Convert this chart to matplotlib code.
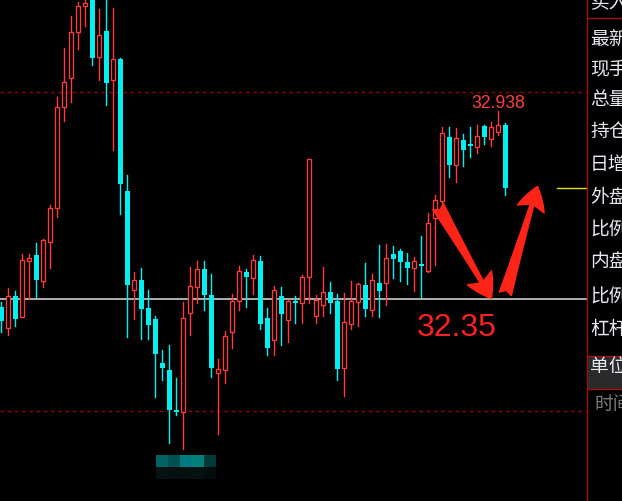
import matplotlib
matplotlib.use("Agg")
import matplotlib.pyplot as plt
from matplotlib.patches import Rectangle

# OHLC (oldest -> newest)
opens = [32.325, 32.259, 32.359, 32.294, 32.469, 32.488, 32.406, 32.528, 32.635, 32.951,
         33.044, 33.188, 33.267, 33.320, 33.110, 33.191, 33.038, 33.101, 32.688, 32.378,
         32.409, 32.322, 32.287, 32.150, 32.128, 32.003, 31.997, 32.306, 32.388, 32.444,
         32.363, 32.119, 32.128, 32.247, 32.344, 32.434, 32.416, 32.469, 32.291, 32.222,
         32.359, 32.284, 32.344, 32.337, 32.419, 32.297, 32.331, 32.372, 32.344, 32.134,
         32.272, 32.341, 32.394, 32.316, 32.400, 32.400, 32.491, 32.500, 32.466, 32.447,
         32.459, 32.438, 32.603, 32.657, 32.857, 32.769, 32.847, 32.835, 32.825, 32.891,
         32.850, 32.872, 32.894]
highs = [32.341, 32.384, 32.375, 32.491, 32.491, 32.525, 32.538, 32.644, 32.982, 33.138,
         33.238, 33.282, 33.307, 33.338, 33.260, 33.301, 33.263, 33.104, 32.738, 32.434,
         32.447, 32.378, 32.297, 32.190, 32.206, 32.103, 32.341, 32.450, 32.469, 32.469,
         32.428, 32.162, 32.250, 32.366, 32.453, 32.444, 32.488, 32.485, 32.322, 32.391,
         32.388, 32.347, 32.359, 32.425, 32.788, 32.363, 32.450, 32.403, 32.366, 32.369,
         32.406, 32.400, 32.463, 32.428, 32.519, 32.522, 32.516, 32.506, 32.494, 32.481,
         32.547, 32.619, 32.675, 32.888, 32.888, 32.885, 32.866, 32.888, 32.897, 32.897,
         32.904, 32.938, 32.901]
lows = [32.247, 32.237, 32.266, 32.294, 32.350, 32.356, 32.388, 32.447, 32.607, 32.907,
        32.966, 33.135, 33.207, 33.085, 33.035, 32.957, 32.816, 32.616, 32.231, 32.287,
        32.225, 32.225, 32.043, 32.097, 31.900, 31.987, 31.881, 32.237, 32.337, 32.316,
        32.106, 31.928, 32.087, 32.197, 32.316, 32.325, 32.366, 32.256, 32.175, 32.175,
        32.206, 32.216, 32.275, 32.275, 32.337, 32.275, 32.297, 32.306, 32.097, 32.047,
        32.256, 32.266, 32.297, 32.297, 32.294, 32.331, 32.416, 32.406, 32.397, 32.375,
        32.356, 32.434, 32.456, 32.619, 32.732, 32.716, 32.766, 32.794, 32.807, 32.835,
        32.829, 32.863, 32.675]
closes = [32.281, 32.359, 32.287, 32.472, 32.478, 32.409, 32.535, 32.635, 32.951, 33.029,
          33.188, 33.267, 33.279, 33.107, 33.179, 33.026, 33.101, 32.710, 32.394, 32.409,
          32.319, 32.269, 32.178, 32.134, 32.003, 31.997, 32.291, 32.391, 32.444, 32.363,
          32.134, 32.131, 32.234, 32.344, 32.438, 32.419, 32.472, 32.272, 32.197, 32.378,
          32.303, 32.344, 32.337, 32.419, 32.788, 32.347, 32.372, 32.337, 32.131, 32.278,
          32.344, 32.397, 32.319, 32.409, 32.375, 32.478, 32.475, 32.466, 32.447, 32.469,
          32.453, 32.588, 32.660, 32.869, 32.769, 32.854, 32.816, 32.829, 32.860, 32.857,
          32.888, 32.894, 32.697]

ref_price = 32.35
grid_prices = [33.0, 32.0]
panel_labels = ["买入", "最新", "现手", "总量", "持仓", "日增", "外盘", "比例", "内盘", "比例", "杠杆"]

RED = "#ff3c3c"
CYAN = "#00f0f0"
CJK = ["Noto Sans CJK SC", "DejaVu Sans"]

fig = plt.figure(figsize=(6.22, 5.02), dpi=100, facecolor="black")
ax = fig.add_axes([0, 0, 587 / 622, 1])
ax.set_facecolor("black")
ax.set_xlim(-0.186, 83.67)
ax.set_ylim(31.7168, 33.2904)
ax.axis("off")

# candles
for i in range(len(opens)):
    o, h, l, c = opens[i], highs[i], lows[i], closes[i]
    top, bot = max(o, c), min(o, c)
    if bot == top:
        top += 0.002
    if c >= o:
        ax.plot([i, i], [top, h], color=RED, lw=1.0, zorder=3)
        ax.plot([i, i], [l, bot], color=RED, lw=1.0, zorder=3)
        ax.add_patch(Rectangle((i - 0.28, bot), 0.56, top - bot, facecolor="black",
                               edgecolor=RED, lw=0.95, zorder=4))
    else:
        ax.plot([i, i], [l, h], color=CYAN, lw=1.0, zorder=3)
        ax.add_patch(Rectangle((i - 0.335, bot), 0.67, max(top - bot, 0.003),
                               facecolor=CYAN, edgecolor="none", zorder=4))

# reference / grid lines
for g in grid_prices:
    ax.axhline(g, color="#8c0000", lw=1.0, dashes=(2.6, 2.6), zorder=1)
ax.axhline(ref_price, color="#dedede", lw=1.1, zorder=2)
ax.axhline(closes[-1], xmin=0.949, xmax=1.0, color="#e0e000", lw=1.0, zorder=2)

# peak label
peak = max(range(60, len(highs)), key=lambda k: highs[k])
ax.annotate("%.3f" % highs[peak], xy=(peak, highs[peak]), xytext=(0, 4),
            textcoords="offset pixels", ha="center", va="baseline",
            color="#ff4040", fontsize=12.7, family="Liberation Sans", zorder=6)

ax.text(65.1, ref_price - 0.089, "%.2f" % ref_price, ha="center", va="center",
        color="#ff2020", fontsize=23, family="Liberation Sans", zorder=6)

# hand-drawn arrows
arrow_style = "fancy,head_length=0.85,head_width=1.0,tail_width=0.45"
ax.annotate("", xy=(70.0, 32.352), xytext=(62.4, 32.64),
            arrowprops=dict(arrowstyle=arrow_style, color="#ff2418", mutation_scale=20,
                            shrinkA=0, shrinkB=0), zorder=7)
ax.annotate("", xy=(76.6, 32.703), xytext=(72.0, 32.366),
            arrowprops=dict(arrowstyle=arrow_style, color="#ff2418", mutation_scale=20,
                            shrinkA=0, shrinkB=0), zorder=7)

# overlay in pixel space for the side panel and mosaic block
ov = fig.add_axes([0, 0, 1, 1])
ov.set_xlim(0, 622)
ov.set_ylim(502, 0)
ov.axis("off")
ov.patch.set_alpha(0)

ov.plot([587, 587], [0, 502], color="#9a1010", lw=1.0)
ov.add_patch(Rectangle((588, 357), 34, 33, facecolor="#2a2a2a", edgecolor="none"))
for yy in (19, 357, 390):
    ov.plot([587, 622], [yy, yy], color="#a51010", lw=1.0)

label_y = [3, 40, 70, 100, 132, 165, 198, 230, 262, 297, 330]
for t, yy in zip(panel_labels, label_y):
    ov.text(590, yy, t, color="#e8e8f0", fontsize=13.5, family=CJK, va="center", ha="left")
ov.text(590, 367, "单位", color="#e8e8f0", fontsize=13.5, family=CJK, va="center", ha="left")
ov.text(594, 405, "时间", color="#7a7a7a", fontsize=13.5, family=CJK, va="center", ha="left")

mosaic = [["#006262", "#005252", "#007a80", "#00807a", "#003a38"],
          ["#041212", "#031010", "#041010", "#041212", "#030c0c"]]
for r, row in enumerate(mosaic):
    for k, col in enumerate(row):
        ov.add_patch(Rectangle((156 + 12 * k, 456 + 12 * r), 12, 12, facecolor=col, edgecolor="none"))

fig.savefig("out.png", dpi=100, facecolor="black")
